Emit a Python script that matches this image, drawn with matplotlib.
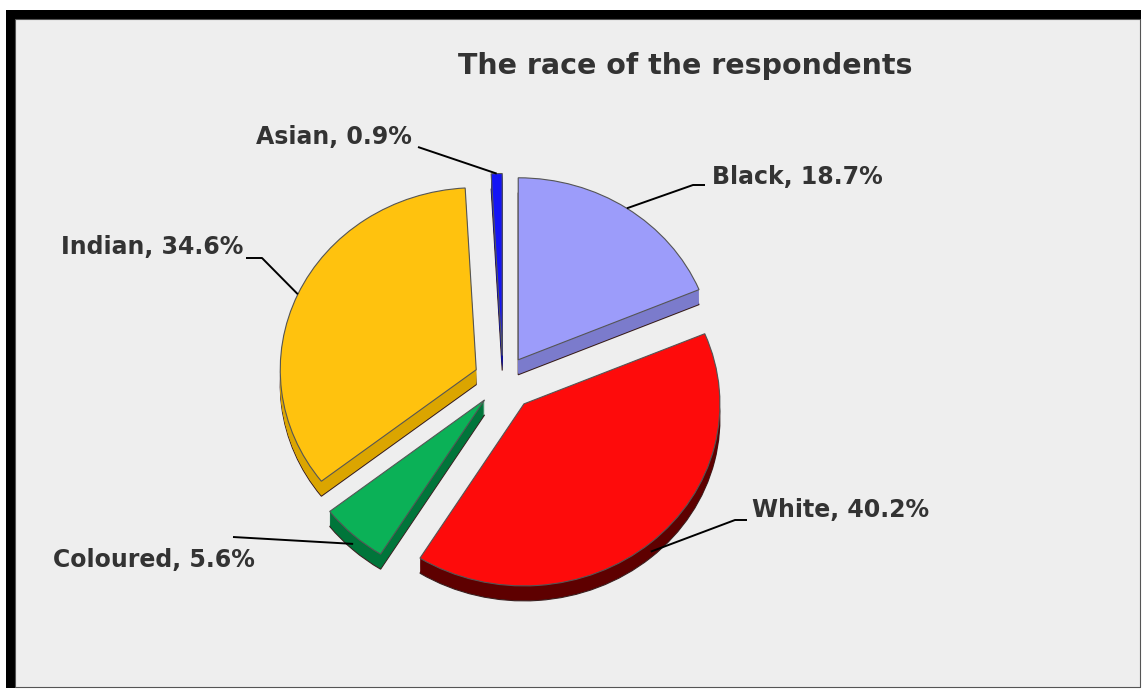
import matplotlib
matplotlib.use('Agg')
import matplotlib.pyplot as plt
from matplotlib.patches import Rectangle
import numpy as np

W, H = 1145, 689

races = ['Black', 'White', 'Coloured', 'Indian', 'Asian']
shares = [18.7, 40.2, 5.6, 34.6, 0.9]
top_colours = ['#9c9cfa', '#fe0b0b', '#0bb157', '#ffc20e', '#1414f5']
side_colours = ['#7b7bcc', '#5e0000', '#00753a', '#dba500', '#10109a']
title = 'The race of the respondents'

# pixel -> data helpers (pie centre at pixel 503,381, radius 196 x 182 px)
CX, CY, RX, RY = 503, 381, 196, 182


def px(x, y):
    return (x - CX) / RX, (CY - y) / RY


fig = plt.figure(figsize=(W / 100, H / 100), dpi=100)
fig.patch.set_facecolor('white')

# frame: thick black on top/left, thin on right/bottom
fig.patches.append(Rectangle((6 / W, 1 - 688 / H), 1135 / W, 678 / H,
                             transform=fig.transFigure, facecolor='black',
                             edgecolor='none', zorder=-10))
fig.patches.append(Rectangle((15 / W, 1 - 686.5 / H), 1124.5 / W, 667.5 / H,
                             transform=fig.transFigure, facecolor='#eeeeee',
                             edgecolor='#555555', linewidth=0.8, zorder=-9))

ax = fig.add_axes([0, 0, 1, 1])
ax.patch.set_alpha(0)

explode = [0.14, 0.165, 0.14, 0.15, 0.14]
depth = 15 / RY
steps = 16

# extruded sides
for k in range(steps, 0, -1):
    dy = -depth * k / steps
    ws, _ = ax.pie(shares, colors=side_colours, startangle=90, counterclock=False,
                   explode=explode, center=(0, dy),
                   wedgeprops=dict(linewidth=0.8 if k == steps else 0,
                                   edgecolor='#3a2020' if k == steps else 'none'))

# top faces
wedges, _ = ax.pie(shares, colors=top_colours, startangle=90, counterclock=False,
                   explode=explode,
                   wedgeprops=dict(linewidth=0.8, edgecolor='#555555'))

ax.set_aspect('auto')
ax.set_xlim(px(0, 0)[0], px(W, 0)[0])
ax.set_ylim(px(0, H)[1], px(0, 0)[1])
ax.axis('off')

font = dict(family='DejaVu Sans', fontweight='bold', color='#333333')

ax.text(*px(685, 66), title, ha='center', va='center', fontsize=20.5, **font)


def anchor(w, drop=0.0):
    tm = np.deg2rad((w.theta1 + w.theta2) / 2)
    return w.center[0] + w.r * np.cos(tm), w.center[1] + w.r * np.sin(tm) - drop


labels = ['%s, %.1f%%' % (r, s) for r, s in zip(races, shares)]
# (text x, text y, ha, leader path start points in px)
label_pos = {
    'Black': (712, 177, 'left', [(705, 185), (693, 185)]),
    'White': (752, 510, 'left', [(747, 520), (735, 520)]),
    'Coloured': (53, 560, 'left', [(233, 537)]),
    'Indian': (243, 247, 'right', [(246, 258), (262, 258)]),
    'Asian': (412, 137, 'right', [(418, 147)]),
}
drops = {'Black': 0, 'White': depth * 0.6, 'Coloured': depth * 0.6,
         'Indian': 0, 'Asian': 0}

for w, race, lab in zip(wedges, races, labels):
    tx, ty, ha, path = label_pos[race]
    ax.text(*px(tx, ty), lab, ha=ha, va='center', fontsize=17, **font)
    pts = [px(x, y) for x, y in path] + [anchor(w, drops[race])]
    xs, ys = zip(*pts)
    ax.plot(xs, ys, color='black', linewidth=1.4, solid_capstyle='butt')

fig.savefig('out.png', dpi=100)
